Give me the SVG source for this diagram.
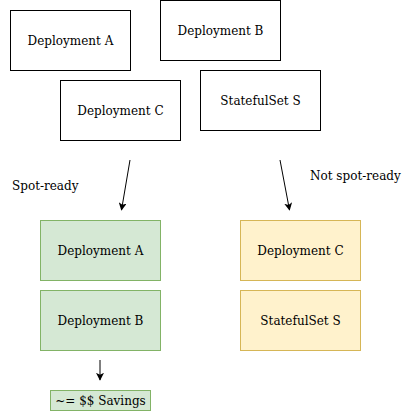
<svg xmlns="http://www.w3.org/2000/svg" width="411" height="411" viewBox="0 0 411 411">
<style>
text{font-family:"DejaVu Serif",serif;font-size:12px;fill:#000;text-anchor:middle;dominant-baseline:central}
.w{fill:#fff;stroke:#000;stroke-width:1}
.g{fill:#d5e8d4;stroke:#82b366;stroke-width:1}
.y{fill:#fff2cc;stroke:#d6b656;stroke-width:1}
.e{stroke:#000;stroke-width:1;fill:none}
.l{text-anchor:start}
</style>
<defs>
<marker id="ah" viewBox="0 0 10 10" refX="9" refY="5" markerWidth="8" markerHeight="8" markerUnits="userSpaceOnUse" orient="auto">
<path d="M0,0 L10,5 L0,10 L2.5,5 Z" fill="#000"/>
</marker>
</defs>
<rect width="411" height="411" fill="#fff"/>
<g id="depA"><rect class="w" x="10.5" y="10.5" width="120" height="60"/><text x="70.5" y="41">Deployment A</text></g>
<g id="depB"><rect class="w" x="160.5" y="0.5" width="120" height="60"/><text x="220.5" y="30.5">Deployment B</text></g>
<g id="depC"><rect class="w" x="60.5" y="80.5" width="120" height="60"/><text x="120.5" y="110.5">Deployment C</text></g>
<g id="stsS"><rect class="w" x="200.5" y="70.5" width="120" height="60"/><text x="260.5" y="100.5">StatefulSet S</text></g>
<g id="gA"><rect class="g" x="40.5" y="220.5" width="120" height="60"/><text x="100.5" y="250.5">Deployment A</text></g>
<g id="gB"><rect class="g" x="40.5" y="290.5" width="120" height="60"/><text x="100.5" y="320.5">Deployment B</text></g>
<g id="yC"><rect class="y" x="240.5" y="220.5" width="120" height="60"/><text x="300.5" y="250.5">Deployment C</text></g>
<g id="yS"><rect class="y" x="240.5" y="290.5" width="120" height="60"/><text x="300.5" y="320.5">StatefulSet S</text></g>
<g id="savings"><rect class="g" x="50.5" y="390.5" width="100" height="20"/><text x="100.5" y="400.5">~= $$ Savings</text></g>
<g id="lblSpot"><text class="l" x="12" y="185.5">Spot-ready</text></g>
<g id="lblNot"><text class="l" x="310" y="175.5">Not spot-ready</text></g>
<g id="connectors">
<line class="e" x1="130" y1="160" x2="121.5" y2="210" marker-end="url(#ah)"/>
<line class="e" x1="280" y1="160" x2="289.5" y2="210" marker-end="url(#ah)"/>
<line class="e" x1="100" y1="360" x2="100" y2="380" marker-end="url(#ah)"/>
</g>
</svg>
